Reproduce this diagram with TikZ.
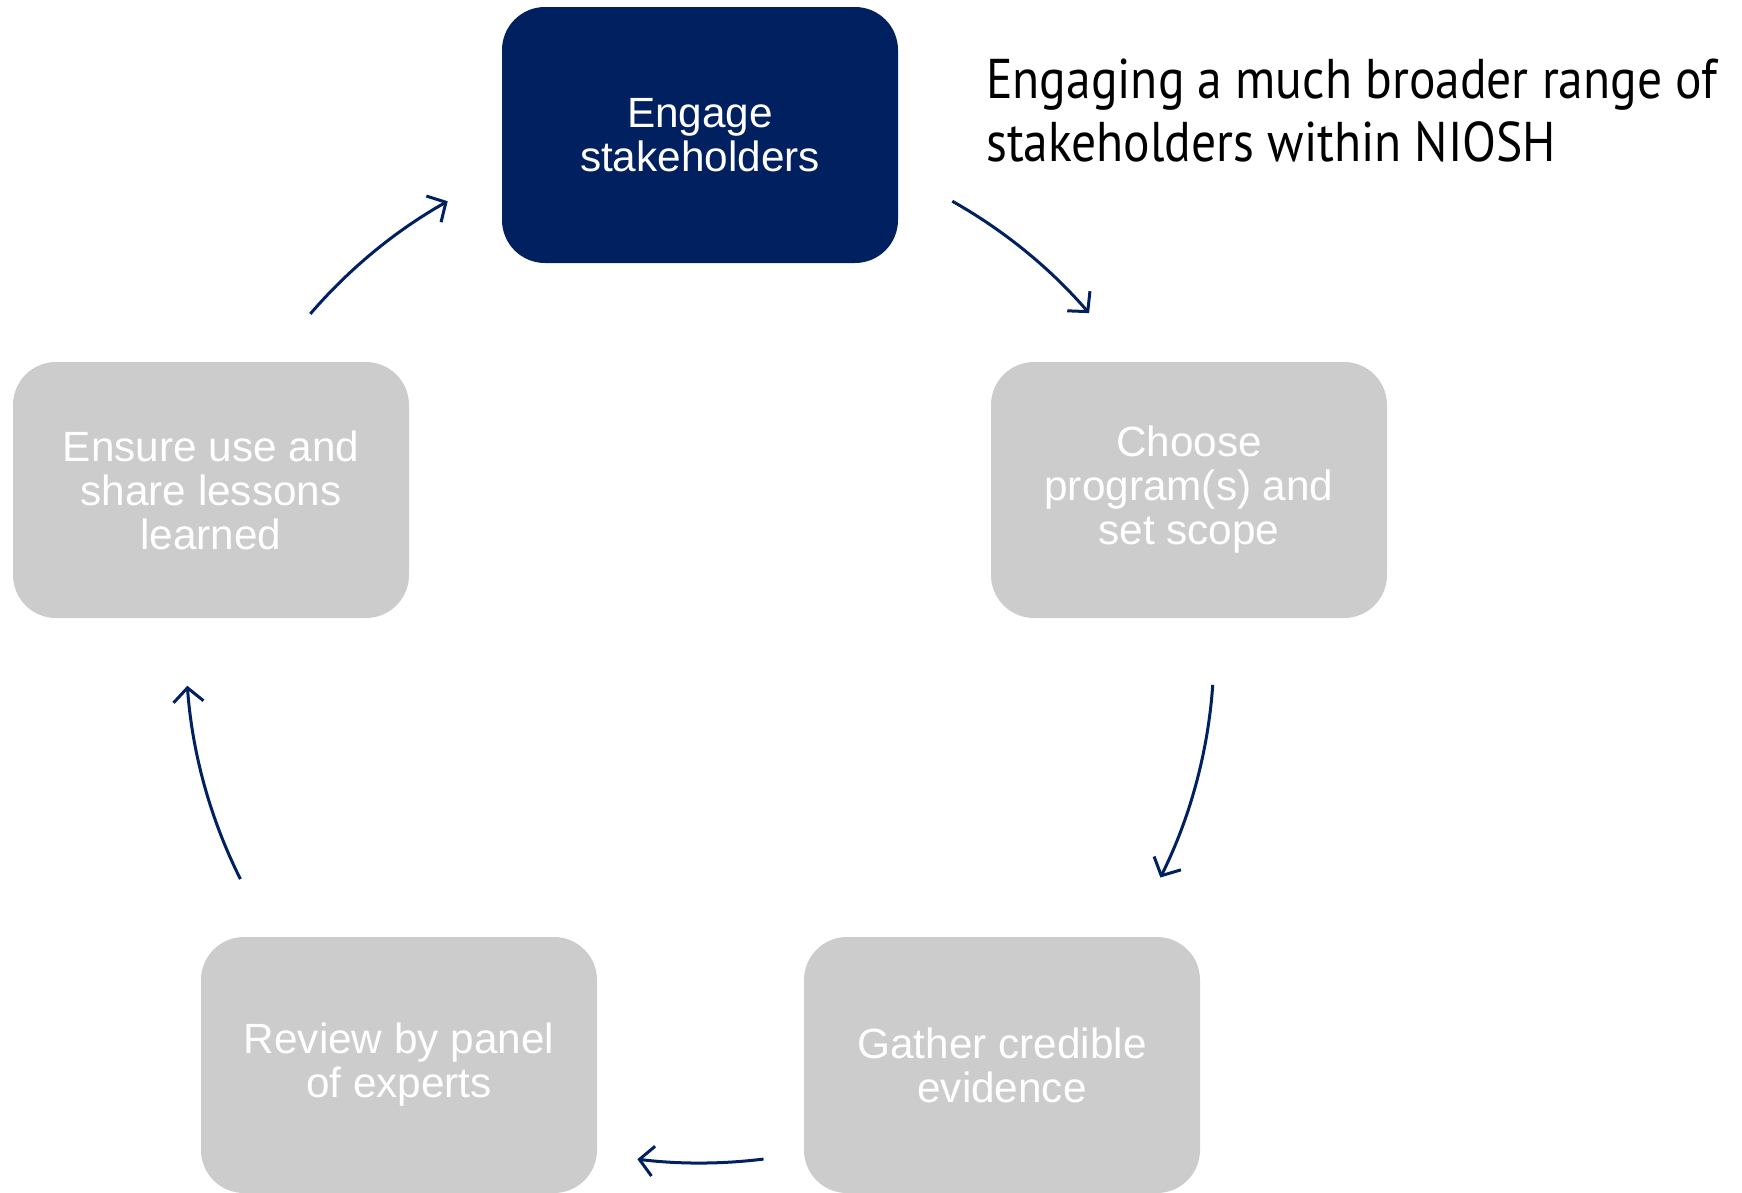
\documentclass[tikz,border=0pt]{standalone}
\usepackage{fontspec}
\setmainfont{Liberation Sans}
\newfontfamily\titlefont[FakeStretch=0.885]{PT Sans}
\usetikzlibrary{arrows.meta}
\definecolor{navy}{RGB}{0,32,96}
\definecolor{boxgray}{RGB}{204,204,204}
\tikzset{
  stepbox/.style={rectangle, rounded corners=43pt, minimum width=396pt, minimum height=256pt,
    fill=boxgray, draw=none, text=white, align=center, inner sep=0pt,
    font=\fontsize{42.3}{44}\selectfont},
  activebox/.style={stepbox, fill=navy},
  cyclearrow/.style={draw=navy, line width=3pt, -{Straight Barb[length=14pt,width=30pt,line width=3pt]}},
  titletext/.style={anchor=base west, inner sep=0pt, font=\titlefont\fontsize{56}{63}\selectfont, text=black}
}
\begin{document}
\begin{tikzpicture}[x=1pt,y=1pt]
\useasboundingbox (0,0) rectangle (1742,-1192);
\clip (0,0) rectangle (1742,-1192);
\node[activebox] (engage) at (700,-135) {Engage\\stakeholders};
\node[stepbox] (choose) at (1189,-490) {Choose\\program(s) and\\set scope};
\node[stepbox] (gather) at (1002,-1065) {Gather credible\\evidence};
\node[stepbox] (review) at (399,-1065) {Review by panel\\of experts};
\node[stepbox] (ensure) at (211,-490) {Ensure use and\\share lessons\\learned};
\coordinate (c) at (700,-649);
\draw[cyclearrow] (c) ++(139.3:514) arc[start angle=139.3, end angle=119.4, radius=514];
\draw[cyclearrow] (c) ++(60.6:514) arc[start angle=60.6, end angle=40.8, radius=514];
\draw[cyclearrow] (c) ++(-4.0:514) arc[start angle=-4.0, end angle=-26.4, radius=514];
\draw[cyclearrow] (c) ++(-82.9:514) arc[start angle=-82.9, end angle=-97.0, radius=514];
\draw[cyclearrow] (c) ++(206.6:514) arc[start angle=206.6, end angle=184.1, radius=514];
\node[titletext] (t1) at (986,-98) {Engaging a much broader range of};
\node[titletext] (t2) at (986,-161) {stakeholders within NIOSH};
\end{tikzpicture}
\end{document}
